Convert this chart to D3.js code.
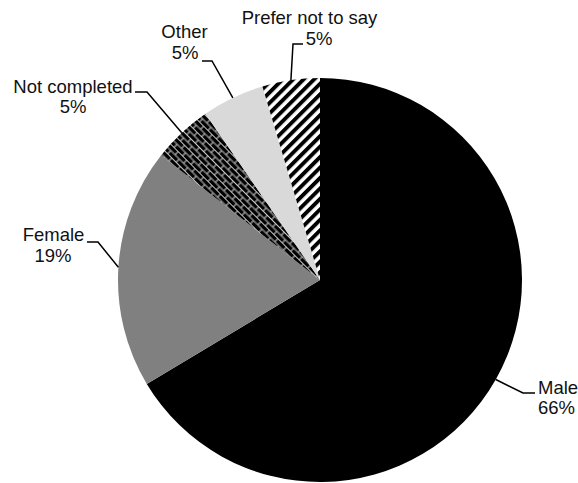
<!DOCTYPE html>
<html>
<head>
<meta charset="utf-8">
<script src="https://cdn.jsdelivr.net/npm/d3@7"></script>
<style>
  html, body { margin: 0; padding: 0; background: #fff; }
  svg { display: block; }
  text { font-family: "Liberation Sans", Arial, sans-serif; font-size: 18.5px; fill: #111; }
</style>
</head>
<body>
<svg id="chart" width="578" height="483"></svg>
<script>
// ---- data ----
const categories = ["Male", "Female", "Not completed", "Other", "Prefer not to say"];
const values = [66.4, 19.2, 4.8, 5.0, 4.6];

// ---- layout (positions kept separate from the data) ----
const W = 578, H = 483;
const cx = 320, cy = 280, R = 202;
const fills = ["#000000", "#808080", "url(#brick)", "#d9d9d9", "url(#stripes)"];
// label lines: [text, x, baseline y, anchor]; leader: elbow then end point
const labelLayout = [
  { lines: [["Male", 538, 394, "start"], ["pct", 538, 414, "start"]], elbow: [523, 393], end: [535, 393] },
  { lines: [["Female", 53.5, 241, "middle"], ["pct", 53, 262, "middle"]], elbow: [98, 242], end: [87, 242] },
  { lines: [["Not completed", 73, 93, "middle"], ["pct", 73, 113, "middle"]], elbow: [147, 92], end: [135, 92] },
  { lines: [["Other", 184.5, 38, "middle"], ["pct", 185, 59, "middle"]], elbow: [212, 61], end: [202, 61] },
  { lines: [["Prefer not to say", 309.5, 23.5, "middle"], ["pct", 319, 44.5, "middle"]], elbow: [293, 44], end: [303, 44] }
];

const svg = d3.select("#chart");
const defs = svg.append("defs");

// wide upward diagonal stripes
const st = defs.append("pattern").attr("id", "stripes")
  .attr("patternUnits", "userSpaceOnUse").attr("width", 7.4).attr("height", 8)
  .attr("patternTransform", "rotate(45)");
st.append("rect").attr("width", 7.4).attr("height", 8).attr("fill", "#fff");
st.append("rect").attr("width", 3.9).attr("height", 8).attr("fill", "#000");

// diagonal brick
const br = defs.append("pattern").attr("id", "brick")
  .attr("patternUnits", "userSpaceOnUse").attr("width", 12).attr("height", 9)
  .attr("patternTransform", "rotate(45)");
br.append("rect").attr("width", 12).attr("height", 9).attr("fill", "#000");
br.append("path")
  .attr("d", "M0,0.5H12M0,5H12M1,0.5V5M7,5V9.5")
  .attr("stroke", "#c8c8c8").attr("stroke-width", 1.1).attr("fill", "none");

const data = categories.map((c, i) => ({ name: c, value: values[i] }));
const pie = d3.pie().value(d => d.value).sort(null).startAngle(0).endAngle(2 * Math.PI);
const arcs = pie(data);
const arc = d3.arc().innerRadius(0).outerRadius(R);
const edge = d3.arc().innerRadius(R).outerRadius(R);

const g = svg.append("g").attr("transform", `translate(${cx},${cy})`);
g.selectAll("path.slice").data(arcs).join("path")
  .attr("class", "slice")
  .attr("d", arc)
  .attr("fill", (d, i) => fills[i]);

const total = d3.sum(values);
const pctFmt = v => Math.round(v / total * 100) + "%";

// leader lines and labels
arcs.forEach((a, i) => {
  const L = labelLayout[i];
  const p = edge.centroid(a);
  const start = [p[0] + cx, p[1] + cy];
  svg.append("path")
    .attr("d", d3.line()([start, L.elbow, L.end]))
    .attr("fill", "none").attr("stroke", "#000").attr("stroke-width", 1.5);
  L.lines.forEach(([t, x, y, anchor]) => {
    svg.append("text")
      .attr("x", x).attr("y", y).attr("text-anchor", anchor)
      .text(t === "pct" ? pctFmt(a.data.value) : t);
  });
});
</script>
</body>
</html>
